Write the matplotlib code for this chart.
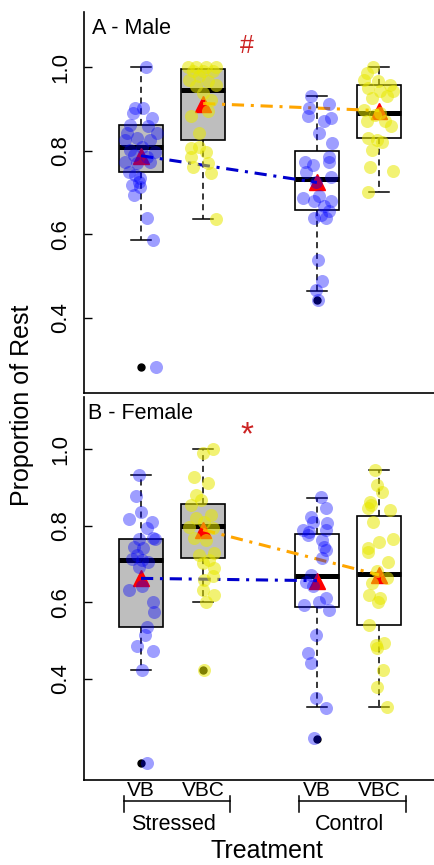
import matplotlib
matplotlib.use("Agg")
import matplotlib.pyplot as plt
import matplotlib.transforms as mtransforms

plt.rcParams['font.family'] = ['Liberation Sans', 'DejaVu Sans']

# group layout: Stressed VB, Stressed VBC, Control VB, Control VBC
positions = [1, 2, 3.83, 4.83]
tick_labels = ['VB', 'VBC', 'VB', 'VBC']
treatments = ['Stressed', 'Control']

# ---- A - Male box statistics
male_med = [0.810, 0.946, 0.732, 0.890]
male_q1 = [0.750, 0.825, 0.658, 0.831]
male_q3 = [0.861, 0.995, 0.800, 0.958]
male_lo = [0.586, 0.637, 0.465, 0.700]
male_hi = [1.000, 0.995, 0.931, 1.000]
male_out = [[0.281], [], [0.443], []]
male_mean = [0.788, 0.913, 0.724, 0.896]

# ---- B - Female box statistics
fem_med = [0.711, 0.800, 0.670, 0.674]
fem_q1 = [0.537, 0.717, 0.589, 0.542]
fem_q3 = [0.766, 0.857, 0.779, 0.827]
fem_lo = [0.424, 0.602, 0.327, 0.328]
fem_hi = [0.933, 1.000, 0.874, 0.946]
fem_out = [[0.180], [0.424], [0.244], []]
fem_mean = [0.663, 0.790, 0.657, 0.672]

# ---- individual animals (value, jitter) per group
m_vb_s = [1.0, 0.902, 0.902, 0.890, 0.878, 0.862, 0.858, 0.842, 0.842, 0.830, 0.826, 0.826, 0.810, 0.802, 0.798,
          0.790, 0.786, 0.774, 0.774, 0.770, 0.750, 0.742, 0.735, 0.726, 0.718, 0.714, 0.695, 0.639, 0.587, 0.281]
m_vb_s_j = [0.08, -0.10, 0.04, -0.13, 0.17, -0.18, 0.12, -0.23, 0.25, -0.07, 0.15, -0.26, 0.01, -0.18, 0.23,
            -0.12, 0.09, -0.26, 0.15, -0.07, -0.20, -0.10, -0.02, -0.04, -0.15, -0.02, -0.12, 0.09, 0.20, 0.24]
m_vbc_s = [1.0, 1.0, 1.0, 1.0, 0.99, 0.99, 0.99, 0.978, 0.970, 0.966, 0.954, 0.958, 0.938, 0.922, 0.882, 0.894,
           0.842, 0.810, 0.806, 0.798, 0.786, 0.762, 0.770, 0.746, 0.637]
m_vbc_s_j = [-0.24, -0.11, 0.05, 0.20, -0.17, 0.0, 0.16, -0.06, -0.22, 0.08, -0.11, 0.21, 0.0, 0.13, -0.19, 0.08,
             -0.06, -0.06, -0.19, 0.05, -0.19, -0.16, 0.08, 0.13, 0.21]
m_vb_c = [0.930, 0.912, 0.902, 0.882, 0.878, 0.870, 0.842, 0.818, 0.786, 0.774, 0.766, 0.774, 0.750, 0.738,
          0.726, 0.687, 0.691, 0.679, 0.679, 0.667, 0.655, 0.639, 0.647, 0.639, 0.539, 0.487, 0.467, 0.443]
m_vb_c_j = [-0.09, 0.20, -0.12, -0.15, 0.23, 0.12, 0.04, 0.25, 0.20, -0.19, -0.07, 0.20, -0.17, 0.23,
            -0.01, -0.23, 0.04, -0.04, 0.23, 0.12, 0.20, -0.04, 0.07, 0.15, 0.01, 0.09, -0.01, 0.01]
m_vbc_c = [1.0, 0.986, 0.970, 0.966, 0.958, 0.950, 0.942, 0.942, 0.926, 0.930, 0.898, 0.890, 0.870, 0.870,
           0.858, 0.830, 0.822, 0.802, 0.762, 0.752, 0.701, 0.826, 0.886]
m_vbc_c_j = [-0.09, -0.20, -0.25, -0.01, 0.18, -0.17, 0.02, 0.23, -0.12, 0.12, -0.25, 0.02, -0.20, 0.10,
             0.20, -0.17, 0.04, -0.12, -0.15, 0.23, -0.17, -0.04, -0.06]

f_vb_s = [0.933, 0.877, 0.837, 0.818, 0.811, 0.794, 0.765, 0.766, 0.746, 0.724, 0.711, 0.713, 0.707, 0.694,
          0.633, 0.644, 0.602, 0.576, 0.537, 0.515, 0.485, 0.474, 0.424, 0.180, 0.768, 0.742]
f_vb_s_j = [-0.04, -0.08, 0.0, -0.20, 0.17, 0.09, 0.23, -0.03, -0.12, -0.07, 0.01, -0.15, 0.12, -0.04,
            -0.20, 0.01, 0.20, 0.21, 0.09, 0.06, -0.07, 0.19, 0.01, 0.09, 0.20, 0.04]
f_vbc_s = [0.991, 1.0, 0.929, 0.911, 0.881, 0.868, 0.855, 0.829, 0.820, 0.811, 0.798, 0.794, 0.768, 0.763,
           0.729, 0.724, 0.711, 0.703, 0.690, 0.668, 0.659, 0.633, 0.620, 0.600, 0.424]
f_vbc_s_j = [-0.01, 0.16, -0.15, 0.08, -0.11, -0.03, -0.19, 0.13, -0.11, 0.02, -0.22, 0.16, -0.14, 0.05,
             0.18, -0.06, 0.10, 0.0, 0.18, 0.16, 0.02, 0.0, 0.18, 0.05, 0.01]
f_vb_c = [0.875, 0.846, 0.811, 0.807, 0.785, 0.790, 0.763, 0.737, 0.716, 0.672, 0.654, 0.642, 0.611, 0.602,
          0.594, 0.581, 0.515, 0.468, 0.441, 0.350, 0.324, 0.246, 0.824, 0.790, 0.776, 0.746]
f_vb_c_j = [0.07, 0.15, -0.07, 0.17, -0.12, 0.15, 0.09, 0.15, 0.09, -0.09, -0.17, -0.07, 0.15, 0.04,
            -0.20, 0.20, -0.01, -0.15, -0.10, -0.01, 0.15, -0.04, -0.09, -0.23, -0.15, 0.12]
f_vbc_c = [0.946, 0.907, 0.890, 0.863, 0.846, 0.842, 0.811, 0.766, 0.759, 0.742, 0.733, 0.707, 0.681, 0.663,
           0.650, 0.620, 0.611, 0.602, 0.541, 0.489, 0.494, 0.481, 0.424, 0.380, 0.328, 0.855]
f_vbc_c_j = [-0.06, -0.04, 0.04, -0.15, -0.17, 0.18, -0.09, 0.22, 0.0, -0.17, -0.17, 0.15, -0.04, 0.12,
             -0.12, -0.16, 0.02, -0.01, -0.16, -0.05, 0.08, -0.04, 0.07, -0.04, 0.12, -0.13]

box_fill = ['#BEBEBE', '#BEBEBE', 'white', 'white']
pt_colors = ['#0000FF', '#E8E800', '#0000FF', '#E8E800']
pt_alpha = [0.38, 0.55, 0.38, 0.55]

fig = plt.figure(figsize=(4.35, 8.65), dpi=100)
ax1 = fig.add_axes([0.1931, 0.5457, 0.8069, 0.4404])
ax2 = fig.add_axes([0.1931, 0.0983, 0.8069, 0.4427])


def draw_panel(ax, med, q1, q3, lo, hi, outs, means, groups, ylim, label, label_x, mark):
    stats = []
    for i in range(4):
        stats.append(dict(med=med[i], q1=q1[i], q3=q3[i], whislo=lo[i], whishi=hi[i], fliers=outs[i]))
    bp = ax.bxp(stats, positions=positions, widths=0.7, patch_artist=True, showfliers=True,
                boxprops=dict(edgecolor='black', linewidth=1.2),
                medianprops=dict(color='black', linewidth=3.6, solid_capstyle='butt'),
                whiskerprops=dict(color='black', linewidth=1.1, linestyle=(0, (4, 3))),
                capprops=dict(color='black', linewidth=1.1),
                capwidths=0.32,
                flierprops=dict(marker='o', markerfacecolor='black', markeredgecolor='black',
                                markersize=5),
                zorder=2)
    for patch, c in zip(bp['boxes'], box_fill):
        patch.set_facecolor(c)

    # group means (red triangles), joined across treatments
    ax.plot(positions, means, linestyle='none', marker='^', markersize=11.5, markerfacecolor='red',
            markeredgecolor='red', markeredgewidth=1, zorder=3)
    ax.plot([positions[0], positions[2]], [means[0], means[2]], color='#0000CC', lw=2.2,
            dashes=(4, 2.2, 1, 2.2), zorder=4)
    ax.plot([positions[1], positions[3]], [means[1], means[3]], color='orange', lw=2.2,
            dashes=(4, 2.2, 1, 2.2), zorder=4)

    for i, (vals, jit) in enumerate(groups):
        xs = [positions[i] + j for j in jit]
        ax.scatter(xs, vals, s=88, color=pt_colors[i], alpha=pt_alpha[i], linewidths=0, zorder=5)

    ax.set_xlim(0.083, 5.73)
    ax.set_ylim(*ylim)
    ax.set_yticks([0.4, 0.6, 0.8, 1.0])
    ax.set_yticklabels(['0.4', '0.6', '0.8', '1.0'], rotation=90, va='center', fontsize=16)
    ax.tick_params(axis='y', direction='in', length=6, width=1, pad=9)
    for s in ['top', 'right']:
        ax.spines[s].set_visible(False)
    for s in ['left', 'bottom']:
        ax.spines[s].set_linewidth(1.2)
    ax.text(label_x, 0.958, label, transform=ax.transAxes, fontsize=15.5, ha='left', va='center')
    ax.text(2.706, mark[0], mark[1], color='#CC2222', fontsize=mark[2], ha='center', va='center')


draw_panel(ax1, male_med, male_q1, male_q3, male_lo, male_hi, male_out, male_mean,
           [(m_vb_s, m_vb_s_j), (m_vbc_s, m_vbc_s_j), (m_vb_c, m_vb_c_j), (m_vbc_c, m_vbc_c_j)],
           (0.22, 1.132), 'A - Male', 0.023, (1.05, '#', 18))
draw_panel(ax2, fem_med, fem_q1, fem_q3, fem_lo, fem_hi, fem_out, fem_mean,
           [(f_vb_s, f_vb_s_j), (f_vbc_s, f_vbc_s_j), (f_vb_c, f_vb_c_j), (f_vbc_c, f_vbc_c_j)],
           (0.136, 1.137), 'B - Female', 0.012, (1.035, '*', 24))

ax1.set_xticks([])
ax2.set_xticks(positions)
ax2.set_xticklabels(tick_labels, fontsize=15)
ax2.tick_params(axis='x', length=0, pad=1)

# treatment brackets under the group labels
trans = mtransforms.blended_transform_factory(ax2.transData, ax2.transAxes)
brackets = [(0.72, 2.43), (3.55, 5.26)]
for (x0, x1), name in zip(brackets, treatments):
    ax2.plot([x0, x1], [-0.055, -0.055], color='black', lw=1.1, transform=trans, clip_on=False)
    ax2.plot([x0, x0], [-0.043, -0.083], color='black', lw=1.1, transform=trans, clip_on=False)
    ax2.plot([x1, x1], [-0.043, -0.083], color='black', lw=1.1, transform=trans, clip_on=False)
    ax2.text((x0 + x1) / 2 - 0.05, -0.115, name, transform=trans, ha='center', va='center', fontsize=15.5)

fig.text(267 / 435, 1 - 851 / 865, 'Treatment', ha='center', va='center', fontsize=18)
fig.text(22 / 435, 1 - 405 / 865, 'Proportion of Rest', rotation=90, ha='center', va='center', fontsize=18)

fig.savefig('out.png', dpi=100)
